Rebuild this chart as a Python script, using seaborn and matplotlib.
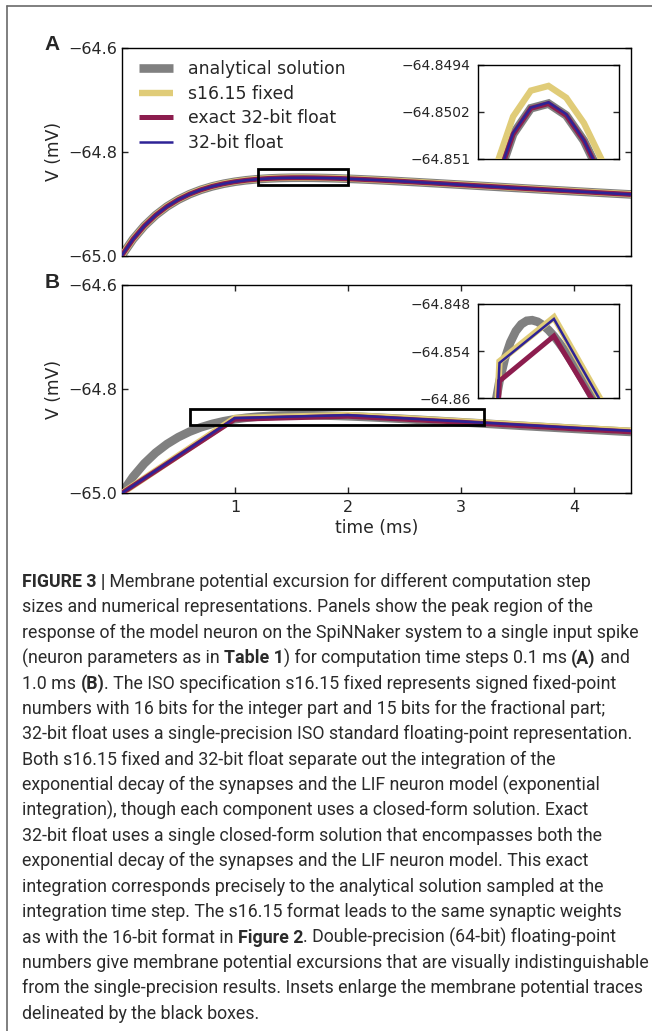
import matplotlib
matplotlib.use("Agg")
import matplotlib.pyplot as plt
import matplotlib.patches as mpatches
from matplotlib.lines import Line2D
import seaborn as sns

# ---------------------------------------------------------------- data
# time axis for the 0.1 ms integration step (ms)
t_fine = [0.0, 0.1, 0.2, 0.3, 0.4, 0.5, 0.6, 0.7, 0.8, 0.9,
          1.0, 1.1, 1.2, 1.3, 1.4, 1.5, 1.6, 1.7, 1.8, 1.9,
          2.0, 2.1, 2.2, 2.3, 2.4, 2.5, 2.6, 2.7, 2.8, 2.9,
          3.0, 3.1, 3.2, 3.3, 3.4, 3.5, 3.6, 3.7, 3.8, 3.9,
          4.0, 4.1, 4.2, 4.3, 4.4, 4.5]

# analytical membrane potential (mV)
v_analytical = [-65.00000, -64.96834, -64.94273, -64.92208, -64.90548, -64.89220, -64.88162, -64.87326, -64.86672, -64.86165,
                -64.85780, -64.85493, -64.85286, -64.85145, -64.85058, -64.85014, -64.85006, -64.85026, -64.85069, -64.85131,
                -64.85208, -64.85298, -64.85396, -64.85503, -64.85615, -64.85732, -64.85853, -64.85976, -64.86101, -64.86228,
                -64.86355, -64.86483, -64.86611, -64.86739, -64.86867, -64.86994, -64.87121, -64.87247, -64.87371, -64.87496,
                -64.87619, -64.87741, -64.87862, -64.87982, -64.88101, -64.88219]

# SpiNNaker traces, 0.1 ms step (mV)
a_fixed = [-65.00000, -64.96828, -64.94262, -64.92193, -64.90529, -64.89198, -64.88139, -64.87301, -64.86645, -64.86138,
           -64.85751, -64.85464, -64.85257, -64.85116, -64.85028, -64.84984, -64.84976, -64.84996, -64.85039, -64.85101,
           -64.85179, -64.85268, -64.85367, -64.85474, -64.85586, -64.85704, -64.85825, -64.85948, -64.86074, -64.86200,
           -64.86328, -64.86456, -64.86585, -64.86713, -64.86841, -64.86968, -64.87095, -64.87221, -64.87346, -64.87471,
           -64.87594, -64.87716, -64.87838, -64.87958, -64.88077, -64.88195]
a_exact32 = [-65.00000, -64.96834, -64.94273, -64.92208, -64.90548, -64.89220, -64.88162, -64.87326, -64.86672, -64.86165,
             -64.85780, -64.85493, -64.85286, -64.85145, -64.85058, -64.85014, -64.85006, -64.85026, -64.85069, -64.85131,
             -64.85208, -64.85298, -64.85396, -64.85503, -64.85615, -64.85732, -64.85853, -64.85976, -64.86101, -64.86228,
             -64.86355, -64.86483, -64.86611, -64.86739, -64.86867, -64.86994, -64.87121, -64.87247, -64.87371, -64.87496,
             -64.87619, -64.87741, -64.87862, -64.87982, -64.88101, -64.88219]
a_float32 = [-65.00000, -64.96834, -64.94273, -64.92207, -64.90547, -64.89219, -64.88161, -64.87325, -64.86670, -64.86164,
             -64.85778, -64.85491, -64.85285, -64.85144, -64.85056, -64.85013, -64.85004, -64.85024, -64.85068, -64.85130,
             -64.85207, -64.85296, -64.85395, -64.85501, -64.85614, -64.85731, -64.85851, -64.85975, -64.86100, -64.86227,
             -64.86354, -64.86482, -64.86610, -64.86738, -64.86866, -64.86993, -64.87119, -64.87245, -64.87370, -64.87494,
             -64.87617, -64.87739, -64.87861, -64.87981, -64.88100, -64.88218]

# SpiNNaker traces, 1.0 ms step (mV)
t_coarse = [0.0, 1.0, 2.0, 3.0, 4.0, 5.0]
b_fixed = [-65.0, -64.8553, -64.8497, -64.8619, -64.8742, -64.8857]
b_exact32 = [-65.0, -64.85780, -64.85208, -64.86355, -64.87619, -64.88792]
b_float32 = [-65.0, -64.8555, -64.8499, -64.8621, -64.8744, -64.8859]

series_names = ["analytical solution", "s16.15 fixed", "exact 32-bit float", "32-bit float"]

main_yticks = [-65.0, -64.8, -64.6]
main_yticklabels = ["\u221265.0", "\u221264.8", "\u221264.6"]
xticks_b = [1, 2, 3, 4]
inset_a_yticks = [-64.851, -64.8502, -64.8494]
inset_a_yticklabels = ["\u221264.851", "\u221264.8502", "\u221264.8494"]
inset_b_yticks = [-64.86, -64.854, -64.848]
inset_b_yticklabels = ["\u221264.86", "\u221264.854", "\u221264.848"]

# zoom windows (x0, x1, y0, y1)
zoom_a = (1.2, 2.0, -64.864, -64.833)
zoom_b = (0.6, 3.2, -64.868, -64.838)

# ---------------------------------------------------------------- style
sns.set_style("ticks")
plt.rcParams["font.family"] = ["DejaVu Sans"]
plt.rcParams["axes.linewidth"] = 1.0
plt.rcParams["axes.edgecolor"] = "black"

colors = ["#808080", "#E0CC78", "#8C1D4E", "#2E2396"]
widths = [6.2, 4.6, 3.6, 1.8]

W, H = 652, 1031
fig = plt.figure(figsize=(W / 100, H / 100), dpi=100)


def px_rect(left, top, right, bottom):
    return [left / W, 1 - bottom / H, (right - left) / W, (bottom - top) / H]


ax_a = fig.add_axes(px_rect(121.7, 47.7, 631, 255.7))
ax_b = fig.add_axes(px_rect(121.7, 285, 631, 493.3))
in_a = fig.add_axes(px_rect(477.7, 64.7, 619.3, 159))
in_b = fig.add_axes(px_rect(477.7, 304, 619.3, 398.3))


def draw_traces(ax, xs, ys_list):
    for i, (x, y) in enumerate(zip(xs, ys_list)):
        sns.lineplot(x=x, y=y, ax=ax, color=colors[i], linewidth=widths[i],
                     sort=False, estimator=None, zorder=2 + i, legend=False,
                     solid_capstyle="butt", solid_joinstyle="miter")


draw_traces(ax_a, [t_fine] * 4, [v_analytical, a_fixed, a_exact32, a_float32])
draw_traces(in_a, [t_fine] * 4, [v_analytical, a_fixed, a_exact32, a_float32])
draw_traces(ax_b, [t_fine, t_coarse, t_coarse, t_coarse],
            [v_analytical, b_fixed, b_exact32, b_float32])
draw_traces(in_b, [t_fine, t_coarse, t_coarse, t_coarse],
            [v_analytical, b_fixed, b_exact32, b_float32])

for ax in (ax_a, ax_b):
    ax.set_xlim(0, 4.5)
    ax.set_ylim(-65.0, -64.6)
    ax.set_yticks(main_yticks, main_yticklabels)
    ax.tick_params(axis="y", which="both", direction="in", length=4, width=1,
                   left=True, right=True, labelsize=11.5, pad=3)
    ax.set_ylabel("V (mV)", fontsize=12.3, va="center")
    ax.yaxis.set_label_coords(-0.133, 0.5)
    for s in ax.spines.values():
        s.set_visible(True)

ax_a.set_xticks([])
ax_a.set_xlabel("")
ax_b.set_xticks(xticks_b, [str(v) for v in xticks_b])
ax_b.tick_params(axis="x", direction="in", length=4, width=1, top=True,
                 bottom=True, labelsize=11.5, pad=5)
ax_b.set_xlabel("time (ms)", fontsize=12.3, va="center")
ax_b.xaxis.set_label_coords(0.5, -0.168)

for ax, (x0, x1, y0, y1) in ((ax_a, zoom_a), (ax_b, zoom_b)):
    ax.add_patch(mpatches.Rectangle((x0, y0), x1 - x0, y1 - y0, fill=False,
                                    edgecolor="black", linewidth=2.0, zorder=10))

for ax, (x0, x1), ticks, labels, ylim in (
        (in_a, zoom_a[:2], inset_a_yticks, inset_a_yticklabels, (-64.851, -64.8494)),
        (in_b, zoom_b[:2], inset_b_yticks, inset_b_yticklabels, (-64.86, -64.848))):
    ax.set_xlim(x0, x1)
    ax.set_ylim(*ylim)
    ax.set_xticks([])
    ax.set_yticks(ticks, labels)
    ax.tick_params(axis="y", direction="in", length=4, width=1, left=True,
                   right=True, labelsize=10, pad=5)
    ax.set_xlabel("")
    ax.set_ylabel("")
    for s in ax.spines.values():
        s.set_visible(True)
        s.set_linewidth(1.0)

handles = [Line2D([], [], color=c, linewidth=w, solid_capstyle="butt")
           for c, w in zip(colors, widths)]
ax_a.legend(handles, series_names, loc="upper left", bbox_to_anchor=(0.034, 0.94),
            frameon=False, fontsize=12.4, handlelength=2.0, handletextpad=0.85,
            labelspacing=0.38, borderpad=0, borderaxespad=0)

# panel letters
for letter, y in (("A", 44), ("B", 282)):
    fig.text(52 / W, 1 - y / H, letter, family=["Liberation Sans", "DejaVu Sans"],
             fontweight="bold", fontsize=15, ha="center", va="center")

# page frame (top and left rules)
fig.add_artist(Line2D([7 / W, 7 / W], [0, 1 - 6 / H], color="#6a6a6a", linewidth=1.2,
                      transform=fig.transFigure))
fig.add_artist(Line2D([7 / W, 1], [1 - 6 / H, 1 - 6 / H], color="#6a6a6a", linewidth=1.2,
                      transform=fig.transFigure))

# ---------------------------------------------------------------- caption
N, B_ = False, True
caption = [
    [("FIGURE 3 |", B_), (" Membrane potential excursion for different computation step", N)],
    [("sizes and numerical representations. Panels show the peak region of the", N)],
    [("response of the model neuron on the SpiNNaker system to a single input spike", N)],
    [("(neuron parameters as in ", N), ("Table 1", B_), (") for computation time steps 0.1 ms ", N),
     ("(A)", B_), (" and", N)],
    [("1.0 ms ", N), ("(B)", B_), (". The ISO specification s16.15 fixed represents signed fixed-point", N)],
    [("numbers with 16 bits for the integer part and 15 bits for the fractional part;", N)],
    [("32-bit float uses a single-precision ISO standard floating-point representation.", N)],
    [("Both s16.15 fixed and 32-bit float separate out the integration of the", N)],
    [("exponential decay of the synapses and the LIF neuron model (exponential", N)],
    [("integration), though each component uses a closed-form solution. Exact", N)],
    [("32-bit float uses a single closed-form solution that encompasses both the", N)],
    [("exponential decay of the synapses and the LIF neuron model. This exact", N)],
    [("integration corresponds precisely to the analytical solution sampled at the", N)],
    [("integration time step. The s16.15 format leads to the same synaptic weights", N)],
    [("as with the 16-bit format in ", N), ("Figure 2", B_), (". Double-precision (64-bit) floating-point", N)],
    [("numbers give membrane potential excursions that are visually indistinguishable", N)],
    [("from the single-precision results. Insets enlarge the membrane potential traces", N)],
    [("delineated by the black boxes.", N)],
]

cap_family = ["Roboto", "DejaVu Sans"]
cap_color = "#2b2b2b"
renderer = fig.canvas.get_renderer()


def run_widths(runs, size):
    total = 0.0
    for text, bold in runs:
        p = fig.text(0, 0, text, family=cap_family, fontweight="bold" if bold else "normal",
                     fontsize=size)
        total += p.get_window_extent(renderer).width
        p.remove()
    return total


# size the caption so its widest line fills the text column
widest = max(run_widths(r, 10) for r in caption)
cap_size = 10 * (647 - 22) / widest

x_left, y_first, line_step = 22, 580, 25.4
for i, runs in enumerate(caption):
    x = x_left
    y = 1 - (y_first + i * line_step) / H
    for text, bold in runs:
        t_ = fig.text(x / W, y, text, family=cap_family,
                      fontweight="bold" if bold else "normal",
                      fontsize=cap_size, color=cap_color, ha="left", va="center_baseline")
        x += t_.get_window_extent(renderer).width

fig.savefig("out.png", dpi=100)
